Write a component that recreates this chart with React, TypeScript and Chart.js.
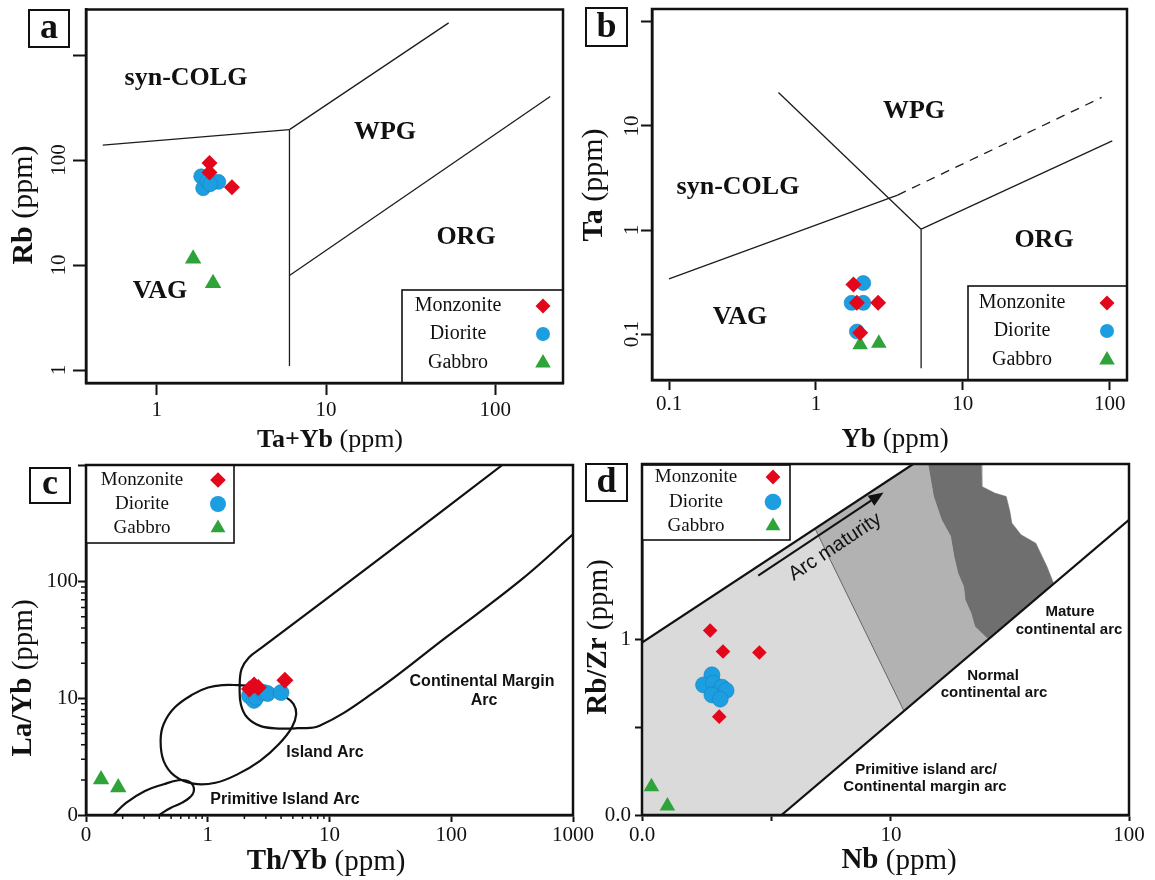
import React, { useEffect, useRef } from 'react';
import { Chart, registerables } from 'chart.js';
import { drawPoint } from 'chart.js/helpers';

Chart.register(...registerables);

const RED = '#e2071b';
const BLUE = '#1d9ee0';
const BLUE_EDGE = '#1583c0';
const GREEN = '#2ea33a';
const INK = '#111111';
const SERIF = '"Liberation Serif", "Times New Roman", serif';
const SANS = '"Liberation Sans", Arial, sans-serif';

type XY = number[][];

const legendNames = ['Monzonite', 'Diorite', 'Gabbro'];

// ---------- Panel a : Rb vs Ta+Yb ----------
const aMonzonite: XY = [[2.05, 94], [2.05, 76], [2.78, 55]];
const aDiorite: XY = [[1.83, 70], [1.88, 54], [1.99, 63], [2.31, 62], [2.07, 59]];
const aGabbro: XY = [[1.64, 11.5], [2.15, 6.7]];
const aVagSynColg: XY = [[0.48, 139], [6.08, 195]];
const aVagOrg: XY = [[6.08, 195], [6.08, 1.09]];
const aSynColgWpg: XY = [[6.08, 195], [53, 2030]];
const aWpgOrg: XY = [[6.08, 7.95], [211, 404]];
const aXTicks = [1, 10, 100];
const aXLabels = ['1', '10', '100'];
const aYTicks = [1, 10, 100, 1000];
const aYLabels = ['1', '10', '100', ''];

// ---------- Panel b : Ta vs Yb ----------
const bMonzonite: XY = [[1.8, 0.3], [1.9, 0.2], [2.65, 0.2], [2.0, 0.103]];
const bDiorite: XY = [[2.1, 0.31], [1.75, 0.2], [2.1, 0.2], [1.9, 0.106]];
const bGabbro: XY = [[2.0, 0.079], [2.68, 0.082]];
const bVagSynColg: XY = [[0.1, 0.34], [3.6, 2.17]];
const bSynColgWpgDashed: XY = [[3.6, 2.17], [88, 18.8]];
const bSynColgWpg: XY = [[0.556, 21], [5.2, 1.02]];
const bVagOrg: XY = [[5.2, 1.02], [5.2, 0.047]];
const bWpgOrg: XY = [[5.2, 1.02], [104, 7.2]];
const bXTicks = [0.1, 1, 10, 100];
const bXLabels = ['0.1', '1', '10', '100'];
const bYTicks = [0.1, 1, 10, 100];
const bYLabels = ['0.1', '1', '10', ''];

// ---------- Panel c : La/Yb vs Th/Yb ----------
const cMonzonite: XY = [[2.2, 12.0], [2.4, 13.0], [2.6, 12.4], [4.3, 14.3]];
const cDiorite: XY = [[2.2, 10.5], [2.4, 9.6], [2.5, 10.2], [2.9, 11.2], [3.1, 11.0], [4.0, 11.2]];
const cGabbro: XY = [[0.133, 2.02], [0.184, 1.72]];
const cContinentalArc: XY = [
  [263, 1000], [27.1, 164], [2.79, 27.3], [2.18, 22.4], [1.895, 17.8], [1.83, 12.8], [1.87, 8.9],
  [2.11, 6.84], [2.69, 5.81], [3.83, 5.51], [5.44, 5.55], [8.29, 5.81], [22.2, 10.9], [90.5, 33.3],
  [368, 102], [995, 253],
];
const cIslandArc: XY = [
  [2.34, 12.8], [1.77, 12.98], [1.33, 12.98], [1.008, 12.38], [0.76, 10.87], [0.535, 8.34], [0.434, 6.0],
  [0.41, 4.32], [0.434, 2.91], [0.535, 2.16], [0.76, 1.856], [1.16, 1.89], [1.766, 2.24], [2.69, 2.91],
  [3.83, 4.04], [4.9, 5.61], [5.33, 7.32], [5.07, 8.92], [4.4, 10.2], [3.56, 11.1], [2.34, 12.8],
];
const cPrimitiveArc: XY = [
  [0.168, 1.0], [0.2146, 1.275], [0.305, 1.607], [0.434, 1.834], [0.574, 1.986], [0.684, 1.958],
  [0.76, 1.774], [0.75, 1.505], [0.616, 1.275], [0.499, 1.155], [0.404, 1.01],
];
const cXTicks = [0.1, 1, 10, 100, 1000];
const cXLabels = ['0', '1', '10', '100', '1000'];
const cXMinor = [0.2, 0.3, 0.4, 0.5, 0.6, 0.7, 0.8, 0.9, 2, 3, 4, 5, 6, 7, 8, 9];
const cYTicks = [1, 10, 100, 1000];
const cYLabels = ['0', '10', '100', ''];
const cYMinor = [2, 3, 4, 5, 6, 7, 8, 9, 20, 30, 40, 50, 60, 70, 80, 90];

// ---------- Panel d : Rb/Zr vs Nb ----------
const dMonzonite: XY = [[1.74, 1.125], [1.97, 0.854], [2.8, 0.843], [1.9, 0.3635]];
const dDiorite: XY = [[1.77, 0.629], [1.632, 0.551], [1.797, 0.564], [1.95, 0.535], [2.03, 0.512], [1.77, 0.483], [1.918, 0.457]];
const dGabbro: XY = [[0.986, 0.145], [1.151, 0.1125]];
const dUpper: XY = [[0.9, 0.961], [12.4, 10]];
const dLower: XY = [[3.47, 0.1], [100, 4.81]];
const dMidBoundary: XY = [[4.8, 4.28], [11.34, 0.392]];
const dLightRegion: XY = [[0.9, 0.961], [4.8, 4.28], [11.34, 0.392], [3.47, 0.1], [0.9, 0.1]];
const dDarkLeft: XY = [
  [14.3, 10], [15.1, 6.53], [16.3, 4.81], [17.8, 3.87], [18.4, 2.97], [19.1, 2.39], [20.2, 2.0],
  [20.5, 1.68], [21.7, 1.41], [22.5, 1.186], [25.6, 1.0],
];
const dDarkRight: XY = [
  [23.9, 10], [24.1, 7.45], [27.3, 6.83], [30.5, 6.53], [31.6, 5.37], [32.2, 4.61], [35.2, 3.95],
  [40.6, 3.54], [45.2, 2.61], [48.3, 2.08],
];
const dArrow: XY = [[2.77, 2.31], [9.31, 6.89]];
const dXTicks = [0.9, 3.16, 10, 100];
const dXLabels = ['0.0', '', '10', '100'];
const dYTicks = [0.1, 0.316, 1];
const dYLabels = ['0.0', '', '1'];

// ---------- helpers ----------
const pts = (arr: XY) => arr.map(([x, y]) => ({ x, y }));

const boundary = (arr: XY, extra: any = {}) => ({
  data: pts(arr),
  showLine: true,
  pointRadius: 0,
  pointHoverRadius: 0,
  borderColor: '#1c1c1c',
  borderWidth: 1.3,
  backgroundColor: 'transparent',
  fill: false,
  tension: 0,
  order: 10,
  ...extra,
});

const region = (arr: XY, color: string) => ({
  data: pts([...arr, arr[0]]),
  showLine: true,
  pointRadius: 0,
  pointHoverRadius: 0,
  borderWidth: 0.5,
  borderColor: color,
  backgroundColor: color,
  fill: 'shape',
  tension: 0,
  order: 20,
});

const STYLES = ['rectRot', 'circle', 'triangle'];
const COLORS = [RED, BLUE, GREEN];
const EDGES = [RED, BLUE_EDGE, GREEN];

const marker = (arr: XY, kind: number, r: number) => ({
  data: pts(arr),
  showLine: false,
  pointStyle: STYLES[kind],
  pointRadius: r,
  pointHoverRadius: r,
  pointBackgroundColor: COLORS[kind],
  pointBorderColor: EDGES[kind],
  pointBorderWidth: kind === 1 ? 0.6 : 0,
  order: kind,
});

interface AxisCfg {
  min: number; max: number; ticks: number[]; labels: string[];
  tickLen: number; pad: number; rotate?: boolean; minor?: number[]; minorLen?: number;
}
interface TextItem { t: string; x: number; y: number; font: string }
interface PanelCfg {
  tag: string;
  canvas: { left: number; top: number; width: number; height: number };
  area: { left: number; top: number; right: number; bottom: number };
  x: AxisCfg; y: AxisCfg;
  datasets: any[];
  texts: TextItem[];
  legend: { box: number[]; textX: number; markerX: number; rows: number[]; fontSize: number; sizes: number[] };
  tagBox: number[];
  xTitle: [string, string, number, number, number];
  yTitle: [string, string, number, number, number];
  extra?: (chart: any, ctx: CanvasRenderingContext2D, ox: number, oy: number) => void;
}

const XH = 40;
const YW = 50;

function makeScale(ax: AxisCfg, isX: boolean) {
  return {
    type: 'logarithmic',
    position: isX ? 'bottom' : 'left',
    min: ax.min,
    max: ax.max,
    afterBuildTicks: (s: any) => { s.ticks = ax.ticks.map((v) => ({ value: v })); },
    afterFit: (s: any) => {
      if (isX) s.height = XH; else s.width = YW;
      s.paddingLeft = 0; s.paddingRight = 0; s.paddingTop = 0; s.paddingBottom = 0;
    },
    ticks: {
      autoSkip: false,
      minRotation: ax.rotate ? 90 : 0,
      maxRotation: ax.rotate ? 90 : 0,
      crossAlign: ax.rotate ? 'center' : 'near',
      padding: ax.pad,
      color: INK,
      font: { family: SERIF, size: 21 },
      callback: (_v: any, i: number) => ax.labels[i] ?? '',
    },
    grid: { display: true, drawOnChartArea: false, drawTicks: true, tickLength: ax.tickLen, tickColor: INK, tickWidth: 2, color: 'rgba(0,0,0,0)' },
    border: { display: true, color: INK, width: 2.5 },
  };
}

function mixedText(ctx: CanvasRenderingContext2D, bold: string, normal: string, size: number, cx: number, cy: number, rot: boolean) {
  ctx.save();
  ctx.translate(cx, cy);
  if (rot) ctx.rotate(-Math.PI / 2);
  ctx.textBaseline = 'middle';
  ctx.textAlign = 'left';
  ctx.fillStyle = INK;
  ctx.font = `bold ${size}px ${SERIF}`;
  const w1 = ctx.measureText(bold).width;
  ctx.font = `${size}px ${SERIF}`;
  const w2 = ctx.measureText(normal).width;
  const start = -(w1 + w2) / 2;
  ctx.font = `bold ${size}px ${SERIF}`;
  ctx.fillText(bold, start, 0);
  ctx.font = `${size}px ${SERIF}`;
  ctx.fillText(normal, start + w1, 0);
  ctx.restore();
}

function decor(cfg: PanelCfg) {
  return {
    id: 'decor',
    afterDraw(chart: any) {
      const ctx: CanvasRenderingContext2D = chart.ctx;
      const a = chart.chartArea;
      const ox = cfg.canvas.left;
      const oy = cfg.canvas.top;
      const xs = chart.scales.x;
      const ys = chart.scales.y;
      ctx.save();
      // minor ticks
      ctx.strokeStyle = INK;
      ctx.lineWidth = 1.5;
      ctx.beginPath();
      (cfg.x.minor || []).forEach((v) => {
        const px = xs.getPixelForValue(v);
        ctx.moveTo(px, a.bottom);
        ctx.lineTo(px, a.bottom + (cfg.x.minorLen || 4));
      });
      (cfg.y.minor || []).forEach((v) => {
        const py = ys.getPixelForValue(v);
        ctx.moveTo(a.left, py);
        ctx.lineTo(a.left - (cfg.y.minorLen || 4), py);
      });
      ctx.stroke();

      if (cfg.extra) cfg.extra(chart, ctx, ox, oy);

      // region texts
      ctx.fillStyle = INK;
      ctx.textAlign = 'center';
      ctx.textBaseline = 'middle';
      cfg.texts.forEach((t) => {
        ctx.font = t.font;
        ctx.fillText(t.t, t.x - ox, t.y - oy);
      });

      // legend
      const L = cfg.legend;
      const [l, t, r, b] = L.box;
      ctx.fillStyle = '#ffffff';
      ctx.fillRect(l - ox, t - oy, r - l, b - t);
      ctx.strokeStyle = INK;
      ctx.lineWidth = 1.6;
      ctx.strokeRect(l - ox, t - oy, r - l, b - t);
      L.rows.forEach((ry, i) => {
        ctx.fillStyle = INK;
        ctx.font = `${L.fontSize}px ${SERIF}`;
        ctx.textAlign = 'center';
        ctx.textBaseline = 'middle';
        ctx.fillText(legendNames[i], L.textX - ox, ry - oy);
        ctx.fillStyle = COLORS[i];
        ctx.strokeStyle = EDGES[i];
        drawPoint(ctx, { radius: L.sizes[i], pointStyle: STYLES[i], rotation: 0, borderWidth: 0 } as any, L.markerX - ox, ry - oy);
      });

      // plot frame
      ctx.strokeStyle = INK;
      ctx.lineWidth = 2.5;
      ctx.strokeRect(a.left, a.top, a.right - a.left, a.bottom - a.top);

      // tag box
      const [tx, ty, tw, th] = cfg.tagBox;
      ctx.fillStyle = '#ffffff';
      ctx.fillRect(tx - ox, ty - oy, tw, th);
      ctx.lineWidth = 2;
      ctx.strokeRect(tx - ox, ty - oy, tw, th);
      ctx.fillStyle = INK;
      ctx.font = `bold 36px ${SERIF}`;
      ctx.textAlign = 'center';
      ctx.textBaseline = 'alphabetic';
      ctx.fillText(cfg.tag, tx - ox + tw / 2, ty - oy + th - 9);

      // axis titles
      const xt = cfg.xTitle;
      mixedText(ctx, xt[0], xt[1], xt[4], xt[2] - ox, xt[3] - oy, false);
      const yt = cfg.yTitle;
      mixedText(ctx, yt[0], yt[1], yt[4], yt[2] - ox, yt[3] - oy, true);
      ctx.restore();
    },
  };
}

const REGION_FONT = `bold 26px ${SERIF}`;
const C_FONT = `bold 16px ${SANS}`;
const D_FONT = `bold 15px ${SANS}`;

const panels: PanelCfg[] = [
  {
    tag: 'a',
    canvas: { left: 0, top: 0, width: 600, height: 465 },
    area: { left: 86, top: 9, right: 563, bottom: 383 },
    x: { min: 0.382, max: 251, ticks: aXTicks, labels: aXLabels, tickLen: 12, pad: 3 },
    y: { min: 0.752, max: 2720, ticks: aYTicks, labels: aYLabels, tickLen: 13, pad: -2, rotate: true },
    datasets: [
      marker(aMonzonite, 0, 8), marker(aDiorite, 1, 7.5), marker(aGabbro, 2, 9.5),
      boundary(aVagSynColg), boundary(aVagOrg), boundary(aSynColgWpg), boundary(aWpgOrg),
    ],
    texts: [
      { t: 'syn-COLG', x: 186, y: 78, font: REGION_FONT },
      { t: 'WPG', x: 385, y: 132, font: REGION_FONT },
      { t: 'ORG', x: 466, y: 237, font: REGION_FONT },
      { t: 'VAG', x: 160, y: 291, font: REGION_FONT },
    ],
    legend: { box: [402, 290, 563, 383], textX: 458, markerX: 543, rows: [306, 334, 363], fontSize: 20, sizes: [7.5, 7, 9] },
    tagBox: [29, 10, 40, 37],
    xTitle: ['Ta+Yb', ' (ppm)', 330, 440, 26],
    yTitle: ['Rb', ' (ppm)', 24, 205, 30],
  },
  {
    tag: 'b',
    canvas: { left: 575, top: 0, width: 580, height: 465 },
    area: { left: 652, top: 8, right: 1127, bottom: 380 },
    x: { min: 0.0766, max: 131, ticks: bXTicks, labels: bXLabels, tickLen: 10, pad: 2 },
    y: { min: 0.0363, max: 133, ticks: bYTicks, labels: bYLabels, tickLen: 11, pad: -5, rotate: true },
    datasets: [
      marker(bMonzonite, 0, 8), marker(bDiorite, 1, 7.5), marker(bGabbro, 2, 9),
      boundary(bVagSynColg), boundary(bSynColgWpgDashed, { borderDash: [9, 7] }),
      boundary(bSynColgWpg), boundary(bVagOrg), boundary(bWpgOrg),
    ],
    texts: [
      { t: 'WPG', x: 914, y: 111, font: REGION_FONT },
      { t: 'syn-COLG', x: 738, y: 187, font: REGION_FONT },
      { t: 'ORG', x: 1044, y: 240, font: REGION_FONT },
      { t: 'VAG', x: 740, y: 317, font: REGION_FONT },
    ],
    legend: { box: [968, 286, 1127, 380], textX: 1022, markerX: 1107, rows: [303, 331, 360], fontSize: 20, sizes: [7.5, 7, 9] },
    tagBox: [586, 8, 41, 38],
    xTitle: ['Yb', ' (ppm)', 895, 440, 27],
    yTitle: ['Ta', ' (ppm)', 594, 185, 30],
  },
  {
    tag: 'c',
    canvas: { left: 0, top: 440, width: 600, height: 440 },
    area: { left: 86, top: 465, right: 573, bottom: 815 },
    x: { min: 0.1, max: 1000, ticks: cXTicks, labels: cXLabels, tickLen: 7, pad: 1, minor: cXMinor, minorLen: 4 },
    y: { min: 1, max: 1000, ticks: cYTicks, labels: cYLabels, tickLen: 8, pad: 0, minor: cYMinor, minorLen: 5 },
    datasets: [
      marker(cMonzonite, 0, 8.5), marker(cDiorite, 1, 8), marker(cGabbro, 2, 9.5),
      boundary(cContinentalArc, { tension: 0.4, borderWidth: 2.2, borderColor: INK }),
      boundary(cIslandArc, { tension: 0.4, borderWidth: 2.2, borderColor: INK }),
      boundary(cPrimitiveArc, { tension: 0.4, borderWidth: 2.2, borderColor: INK }),
    ],
    texts: [
      { t: 'Continental Margin', x: 482, y: 682, font: C_FONT },
      { t: 'Arc', x: 484, y: 701, font: C_FONT },
      { t: 'Island Arc', x: 325, y: 753, font: C_FONT },
      { t: 'Primitive Island Arc', x: 285, y: 800, font: C_FONT },
    ],
    legend: { box: [86, 465, 234, 543], textX: 142, markerX: 218, rows: [480, 504, 528], fontSize: 19, sizes: [7.8, 8, 8.6] },
    tagBox: [30, 468, 40, 35],
    xTitle: ['Th/Yb', ' (ppm)', 326, 862, 29],
    yTitle: ['La/Yb', ' (ppm)', 24, 678, 29],
  },
  {
    tag: 'd',
    canvas: { left: 575, top: 440, width: 580, height: 440 },
    area: { left: 642, top: 464, right: 1129, bottom: 815 },
    x: { min: 0.9, max: 100, ticks: dXTicks, labels: dXLabels, tickLen: 6, pad: 2 },
    y: { min: 0.1, max: 10, ticks: dYTicks, labels: dYLabels, tickLen: 7, pad: 4 },
    datasets: [
      marker(dMonzonite, 0, 7.3), marker(dDiorite, 1, 8), marker(dGabbro, 2, 9),
      boundary(dUpper, { borderWidth: 2.2, borderColor: INK, order: 5 }),
      boundary(dLower, { borderWidth: 2.2, borderColor: INK, order: 5 }),
      boundary(dMidBoundary, { borderWidth: 0.8, borderColor: '#444444', order: 6 }),
      region(dLightRegion, '#dadada'),
      region([[4.8, 4.28], [12.4, 10], ...dDarkLeft, [11.34, 0.392]], '#b2b2b2'),
      region([...dDarkRight, ...[...dDarkLeft].reverse()], '#6f6f6f'),
    ],
    texts: [
      { t: 'Mature', x: 1070, y: 612, font: D_FONT },
      { t: 'continental arc', x: 1069, y: 630, font: D_FONT },
      { t: 'Normal', x: 993, y: 676, font: D_FONT },
      { t: 'continental arc', x: 994, y: 693, font: D_FONT },
      { t: 'Primitive island arc/', x: 926, y: 770, font: D_FONT },
      { t: 'Continental margin arc', x: 925, y: 787, font: D_FONT },
    ],
    legend: { box: [642, 465, 790, 540], textX: 696, markerX: 773, rows: [477, 502, 526], fontSize: 19, sizes: [7.4, 8.3, 8.6] },
    tagBox: [586, 464, 41, 37],
    xTitle: ['Nb', ' (ppm)', 899, 861, 29],
    yTitle: ['Rb/Zr', ' (ppm)', 599, 637, 29],
    extra: (chart, ctx, ox, oy) => {
      const xs = chart.scales.x;
      const ys = chart.scales.y;
      const [p0, p1] = dArrow.map(([x, y]) => [xs.getPixelForValue(x), ys.getPixelForValue(y)]);
      const ang = Math.atan2(p1[1] - p0[1], p1[0] - p0[0]);
      const cs = Math.cos(ang);
      const sn = Math.sin(ang);
      const HL = 15;
      const HW = 6;
      ctx.strokeStyle = INK;
      ctx.fillStyle = INK;
      ctx.lineWidth = 2;
      ctx.beginPath();
      ctx.moveTo(p0[0], p0[1]);
      ctx.lineTo(p1[0] - HL * cs, p1[1] - HL * sn);
      ctx.stroke();
      ctx.beginPath();
      ctx.moveTo(p1[0], p1[1]);
      ctx.lineTo(p1[0] - HL * cs + HW * sn, p1[1] - HL * sn - HW * cs);
      ctx.lineTo(p1[0] - HL * cs - HW * sn, p1[1] - HL * sn + HW * cs);
      ctx.closePath();
      ctx.fill();
      ctx.save();
      ctx.translate(835 - ox, 547 - oy);
      ctx.rotate(ang);
      ctx.font = `20px ${SANS}`;
      ctx.textAlign = 'center';
      ctx.textBaseline = 'middle';
      ctx.fillText('Arc maturity', 0, 0);
      ctx.restore();
    },
  },
];

function Panel({ cfg }: { cfg: PanelCfg }) {
  const ref = useRef<HTMLCanvasElement>(null);
  useEffect(() => {
    const c = cfg.canvas;
    const a = cfg.area;
    const chart = new Chart(ref.current as HTMLCanvasElement, {
      type: 'scatter',
      data: { datasets: cfg.datasets },
      options: {
        animation: false,
        responsive: false,
        maintainAspectRatio: false,
        events: [],
        layout: {
          padding: {
            left: a.left - c.left - YW,
            top: a.top - c.top,
            right: c.left + c.width - a.right,
            bottom: c.top + c.height - a.bottom - XH,
          },
        },
        plugins: { legend: { display: false }, tooltip: { enabled: false }, title: { display: false } },
        scales: { x: makeScale(cfg.x, true), y: makeScale(cfg.y, false) } as any,
      },
      plugins: [decor(cfg)],
    } as any);
    return () => chart.destroy();
  }, []);
  const c = cfg.canvas;
  return (
    <canvas
      ref={ref}
      width={c.width}
      height={c.height}
      style={{ position: 'absolute', left: c.left, top: c.top, width: c.width, height: c.height }}
    />
  );
}

export default function App() {
  return (
    <div style={{ position: 'absolute', left: 0, top: 0, width: 1155, height: 880, background: '#ffffff', overflow: 'hidden' }}>
      {panels.map((p) => (
        <Panel key={p.tag} cfg={p} />
      ))}
    </div>
  );
}
